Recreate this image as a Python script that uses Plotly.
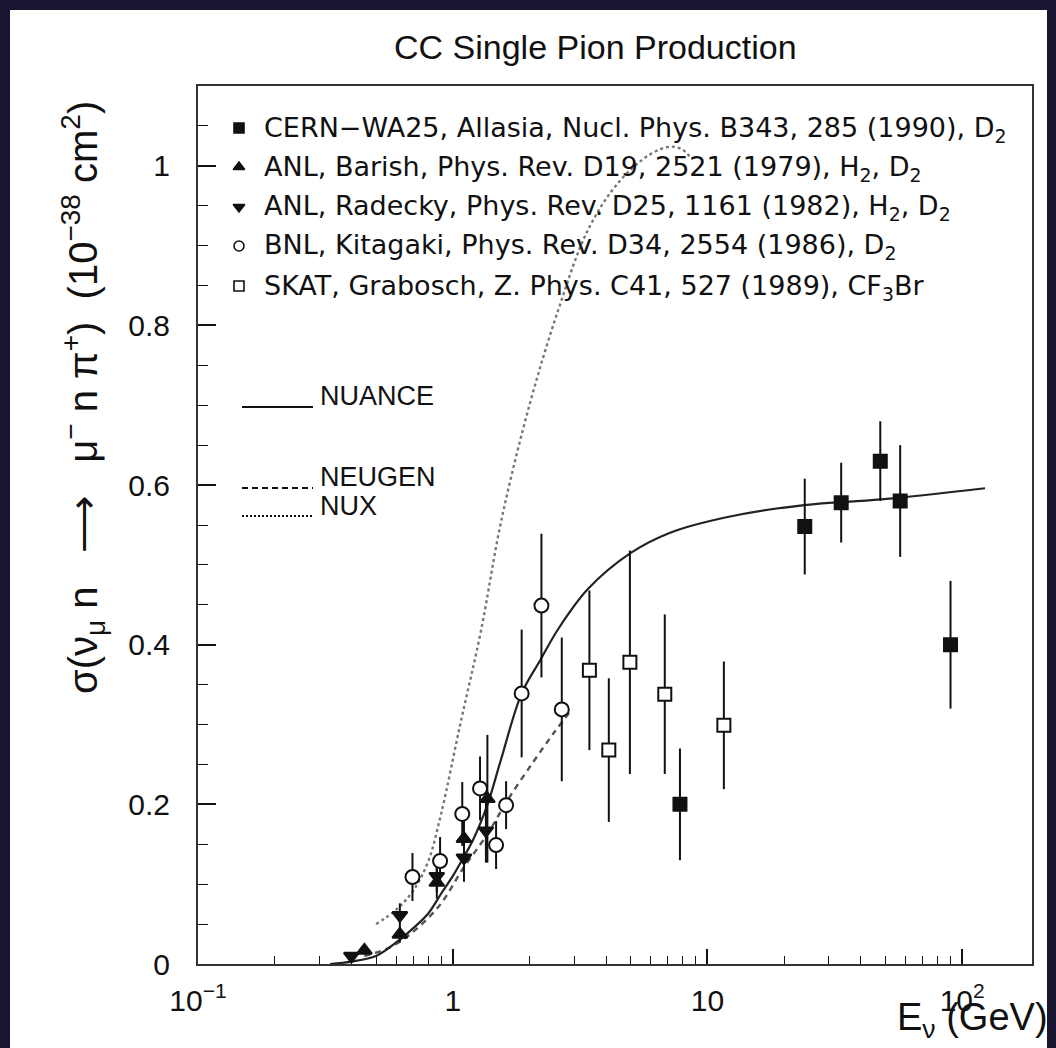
import numpy as np
import plotly.graph_objects as go

# ---------------- data ----------------
# CERN-WA25 (filled squares)
cern_E = [7.8, 24.1, 33.5, 47.7, 57.1, 90.0]
cern_s = [0.20, 0.548, 0.578, 0.630, 0.580, 0.40]
cern_e = [0.07, 0.06, 0.05, 0.05, 0.07, 0.08]

# ANL Barish (up triangles)
bar_E = [0.45, 0.62, 0.866, 1.107, 1.368]
bar_s = [0.017, 0.037, 0.102, 0.157, 0.207]
bar_e = [0.005, 0.01, 0.02, 0.03, 0.08]

# ANL Radecky (down triangles)
rad_E = [0.40, 0.62, 0.866, 1.107, 1.35]
rad_s = [0.010, 0.061, 0.110, 0.133, 0.167]
rad_e = [0.005, 0.015, 0.02, 0.03, 0.04]

# BNL Kitagaki (open circles)
bnl_E = [0.695, 0.892, 1.09, 1.28, 1.48, 1.62, 1.865, 2.23, 2.68]
bnl_s = [0.109, 0.129, 0.188, 0.220, 0.149, 0.199, 0.339, 0.449, 0.319]
bnl_e = [0.03, 0.03, 0.04, 0.04, 0.03, 0.03, 0.08, 0.09, 0.09]

# SKAT Grabosch (open squares)
skat_E = [3.44, 4.10, 4.96, 6.80, 11.6]
skat_s = [0.368, 0.268, 0.378, 0.338, 0.299]
skat_e = [0.10, 0.09, 0.14, 0.10, 0.08]

# model curves
nuance_E = [0.33, 0.40, 0.50, 0.60, 0.70, 0.80, 0.90, 1.00, 1.10, 1.20, 1.37, 1.54,
            1.865, 2.2, 2.6, 3.4, 5.0, 7.1, 12.0, 24.0, 48.0, 123.0]
nuance_s = [0.0, 0.003, 0.010, 0.027, 0.045, 0.063, 0.088, 0.110, 0.133, 0.155, 0.200, 0.254,
            0.339, 0.380, 0.420, 0.470, 0.515, 0.540, 0.560, 0.575, 0.582, 0.596]

neugen_E = [0.45, 0.60, 0.87, 1.10, 1.37, 1.64, 2.08, 2.50, 2.95]
neugen_s = [0.010, 0.025, 0.070, 0.120, 0.163, 0.205, 0.254, 0.290, 0.320]

nux_E = [0.50, 0.60, 0.70, 0.80, 0.90, 1.07, 1.29, 1.55, 2.0, 2.6, 3.4, 4.5, 6.0, 7.2, 8.0, 8.6]
nux_s = [0.050, 0.068, 0.092, 0.128, 0.188, 0.300, 0.417, 0.555, 0.700, 0.820, 0.920, 0.980,
         1.015, 1.024, 1.020, 1.010]

x_tickvals = [0.1, 1, 10, 100]
x_ticktext = ["10<sup>−1</sup>", "1", "10", "10<sup>2</sup>"]
y_tickvals = [0, 0.2, 0.4, 0.6, 0.8, 1.0]
y_ticktext = ["0", "0.2", "0.4", "0.6", "0.8", "1"]

legend_labels = [
    "CERN−WA25, Allasia, Nucl. Phys. B343, 285 (1990), D<sub>2</sub>",
    "ANL, Barish, Phys. Rev. D19, 2521 (1979), H<sub>2</sub>, D<sub>2</sub>",
    "ANL, Radecky, Phys. Rev. D25, 1161 (1982), H<sub>2</sub>, D<sub>2</sub>",
    "BNL, Kitagaki, Phys. Rev. D34, 2554 (1986), D<sub>2</sub>",
    "SKAT, Grabosch, Z. Phys. C41, 527 (1989), CF<sub>3</sub>Br",
]
model_labels = ["NUANCE", "NEUGEN", "NUX"]

# ---------------- figure ----------------
W, H = 1056, 1048
L, R, T, B = 198, 24, 86, 84
BLACK = "#111111"
FONT = "DejaVu Sans"
TFONT = "Liberation Sans, Arial"
NB = "\u00a0"

pw, ph = W - L - R, H - T - B


def sx(x):
    return (x - L) / pw


def sy(y):
    return (H - B - y) / ph


fig = go.Figure()

# curves
fig.add_trace(go.Scatter(x=nux_E, y=nux_s, mode="lines",
                         line=dict(color="#777777", width=2.4, dash="dot", shape="spline"), hoverinfo="skip"))
fig.add_trace(go.Scatter(x=neugen_E, y=neugen_s, mode="lines",
                         line=dict(color="#555555", width=2.4, dash="6px,5px", shape="spline"), hoverinfo="skip"))
fig.add_trace(go.Scatter(x=nuance_E, y=nuance_s, mode="lines",
                         line=dict(color="#222222", width=2.2, shape="spline"), hoverinfo="skip"))


def pts(E, s, e, symbol, fill, size):
    fig.add_trace(go.Scatter(
        x=E, y=s, mode="markers",
        error_y=dict(type="data", array=e, visible=True, width=0, thickness=2, color=BLACK),
        marker=dict(symbol=symbol, size=size, color=fill, line=dict(color=BLACK, width=2)),
        hoverinfo="skip"))


pts(bar_E, bar_s, bar_e, "triangle-up", BLACK, 13)
pts(rad_E, rad_s, rad_e, "triangle-down", BLACK, 13)
pts(bnl_E, bnl_s, bnl_e, "circle", "white", 14)
pts(skat_E, skat_s, skat_e, "square", "white", 13)
pts(cern_E, cern_s, cern_e, "square", BLACK, 13)

# legend symbols on an overlay unit axis
leg_rows_y = [128, 167, 207, 246, 286]
leg_syms = [("square", BLACK), ("triangle-up", BLACK), ("triangle-down", BLACK),
            ("circle", "white"), ("square", "white")]
for (sym, col), yy in zip(leg_syms, leg_rows_y):
    fig.add_trace(go.Scatter(
        x=[sx(239)], y=[sy(yy)], xaxis="x2", yaxis="y2",
        mode="markers", marker=dict(symbol=sym, size=10, color=col, line=dict(color=BLACK, width=1.6)),
        hoverinfo="skip"))

# white page over the dark background
fig.add_shape(type="rect", xref="paper", yref="paper", x0=sx(10), x1=sx(1047), y0=sy(1048), y1=sy(10),
              fillcolor="white", line_width=0, layer="below")

# model legend line samples
for yy, dash in [(407, "solid"), (488, "6px,4px"), (516, "2px,2px")]:
    fig.add_shape(type="line", xref="paper", yref="paper", x0=sx(242), x1=sx(313), y0=sy(yy), y1=sy(yy),
                  line=dict(color=BLACK, width=2, dash=dash))

ann = []
ann.append(dict(text="CC Single Pion Production", x=sx(595), y=sy(47), xref="paper", yref="paper",
                showarrow=False, xanchor="center", yanchor="middle",
                font=dict(family=TFONT, size=34, color=BLACK)))
ytitle = ("σ(ν<sub>μ</sub> n" + NB * 3 + "⟶" + NB * 3 + "μ<sup>−</sup> n π<sup>+</sup>)" + NB * 2 +
          "(10<sup>−38</sup>" + NB + "cm<sup>2</sup>)")
ann.append(dict(text=ytitle, x=sx(83), y=sy(398), xref="paper", yref="paper", textangle=-90, showarrow=False,
                xanchor="center", yanchor="middle", font=dict(family=TFONT, size=40, color=BLACK)))
ann.append(dict(text="E<sub>ν</sub> (GeV)", x=sx(1050), y=sy(1020), xref="paper", yref="paper",
                showarrow=False, xanchor="right", yanchor="middle",
                font=dict(family=TFONT, size=38, color=BLACK)))
for lab, yy in zip(legend_labels, leg_rows_y):
    ann.append(dict(text=lab, x=sx(262), y=sy(yy + 1), xref="paper", yref="paper", showarrow=False,
                    xanchor="left", yanchor="middle", font=dict(family=FONT, size=27, color=BLACK)))
for lab, yy in zip(model_labels, [396, 477, 506]):
    ann.append(dict(text=lab, x=sx(318), y=sy(yy), xref="paper", yref="paper", showarrow=False,
                    xanchor="left", yanchor="middle", font=dict(family=TFONT, size=27, color=BLACK)))

minor_x = [v * d for d in (0.1, 1, 10) for v in range(2, 10)]

fig.update_layout(
    width=W, height=H,
    margin=dict(l=L, r=R, t=T, b=B, pad=0),
    paper_bgcolor="#17152f",
    plot_bgcolor="rgba(0,0,0,0)",
    showlegend=False,
    annotations=ann,
    xaxis=dict(type="log", range=[-1, np.log10(188)], tickvals=x_tickvals, ticktext=x_ticktext,
               ticks="inside", ticklen=15, tickwidth=1.6, tickcolor=BLACK,
               minor=dict(ticks="inside", ticklen=8, tickwidth=1.4, tickcolor=BLACK, tickvals=minor_x),
               showline=True, linecolor="#333333", linewidth=2, mirror=True,
               showgrid=False, zeroline=False, ticklabelstandoff=9,
               tickfont=dict(family=TFONT, size=30, color=BLACK)),
    yaxis=dict(range=[0, 1.1], tickvals=y_tickvals, ticktext=y_ticktext,
               ticks="inside", ticklen=18, tickwidth=1.6, tickcolor=BLACK,
               minor=dict(ticks="inside", ticklen=10, tickwidth=1.4, tickcolor=BLACK, dtick=0.05),
               showline=True, linecolor="#333333", linewidth=2, mirror=True,
               showgrid=False, zeroline=False, ticklabelstandoff=20,
               tickfont=dict(family=TFONT, size=30, color=BLACK)),
    xaxis2=dict(overlaying="x", range=[0, 1], visible=False, fixedrange=True),
    yaxis2=dict(overlaying="y", range=[0, 1], visible=False, fixedrange=True),
)

fig.write_html("out.html", config={"displayModeBar": False},
               post_script="document.body.style.margin='0';")
